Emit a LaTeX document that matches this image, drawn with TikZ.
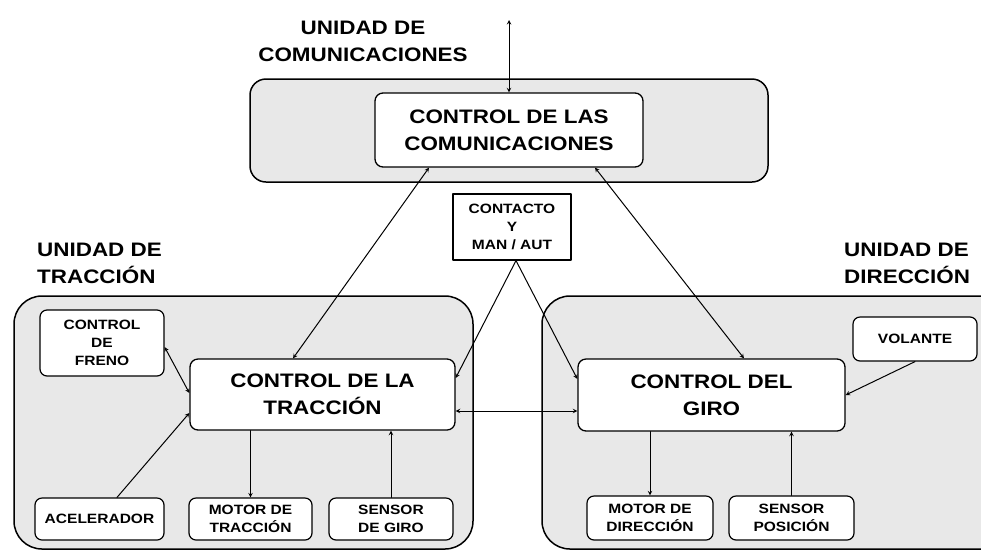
\documentclass[tikz,border=0pt]{standalone}
\usepackage{fontspec}
\setmainfont[FakeStretch=1.15]{Liberation Sans}
\definecolor{unitgray}{gray}{0.91}
\begin{document}
\begin{tikzpicture}[x=1pt,y=-1pt,line cap=round,line join=round,>=stealth,
	unit/.style={line width=1.5pt,fill=unitgray,rounded corners=28pt},
	ctrl/.style={draw,line width=1.3pt,fill=white,rounded corners=8pt,align=center,inner sep=0pt,font=\bfseries\fontsize{19.5}{27}\selectfont},
	part/.style={draw,line width=1.2pt,fill=white,rounded corners=7pt,align=center,inner sep=0pt,font=\bfseries\fontsize{13.5}{18}\selectfont},
	head/.style={align=left,inner sep=0pt,font=\bfseries\fontsize{19.5}{27}\selectfont},
	link/.style={line width=1pt}]
\useasboundingbox (0,0) rectangle (981,550);
\begin{scope}
\clip (0,0) rectangle (981,550);
\draw[unit,rounded corners=16pt] (250,79) rectangle (768,182);
\draw[unit] (14,296) rectangle (473,549);
\draw[unit] (542,296) rectangle (1010,549);
\end{scope}
\node[head,align=center] (hcomm) at (363,41) {UNIDAD DE\\COMUNICACIONES};
\node[head,anchor=west] (htrac) at (37,263) {UNIDAD DE\\TRACCIÓN};
\node[head,anchor=west] (hdir) at (844,263) {UNIDAD DE\\DIRECCIÓN};
\node[ctrl,minimum width=268pt,minimum height=74pt] (comm) at (509,130) {CONTROL DE LAS\\COMUNICACIONES};
\node[ctrl,minimum width=265pt,minimum height=71pt] (trac) at (322.5,394.5) {CONTROL DE LA\\TRACCIÓN};
\node[ctrl,minimum width=267pt,minimum height=72pt] (giro) at (711.5,395) {CONTROL DEL\\GIRO};
\node[part,rounded corners=0pt,minimum width=118pt,minimum height=66pt] (contacto) at (512,227) {CONTACTO\\Y\\MAN / AUT};
\node[part,minimum width=124pt,minimum height=66pt] (freno) at (102,343) {CONTROL\\DE\\FRENO};
\node[part,minimum width=129pt,minimum height=42pt] (acel) at (99.5,519) {ACELERADOR};
\node[part,minimum width=123pt,minimum height=42pt] (motortrac) at (250.5,519) {MOTOR DE\\TRACCIÓN};
\node[part,minimum width=124pt,minimum height=42pt] (sensgiro) at (391,519) {SENSOR\\DE GIRO};
\node[part,minimum width=124pt,minimum height=44pt] (volante) at (915,339) {VOLANTE};
\node[part,minimum width=126pt,minimum height=44pt] (motordir) at (650,518) {MOTOR DE\\DIRECCIÓN};
\node[part,minimum width=125pt,minimum height=44pt] (senspos) at (791.5,518) {SENSOR\\POSICIÓN};
\coordinate (ext) at (509,20);
\draw[link,<->] (ext) -- (comm.north);
\draw[link,<->] ([xshift=-80pt]comm.south) -- ([xshift=-29.5pt]trac.north);
\draw[link,<->] ([xshift=86pt]comm.south) -- ([xshift=32.5pt]giro.north);
\draw[link,->] ([xshift=4pt]contacto.south) -- ([yshift=16.5pt]trac.east);
\draw[link,->] ([xshift=4pt]contacto.south) -- ([yshift=16pt]giro.west);
\draw[link,<->] ([yshift=-16.5pt]trac.east) -- ([yshift=-16pt]giro.west);
\draw[link,<->] ([yshift=-4pt]freno.east) -- ([yshift=1.5pt]trac.west);
\draw[link,->] ([xshift=17.5pt]acel.north) -- ([yshift=-18.5pt]trac.west);
\draw[link,->] (motortrac.north |- trac.south) -- (motortrac.north);
\draw[link,->] (sensgiro.north) -- (sensgiro.north |- trac.south);
\draw[link,->] (motordir.north |- giro.south) -- (motordir.north);
\draw[link,->] (senspos.north) -- (senspos.north |- giro.south);
\draw[link,->] (volante.south) -- (giro.east);
\end{tikzpicture}
\end{document}
